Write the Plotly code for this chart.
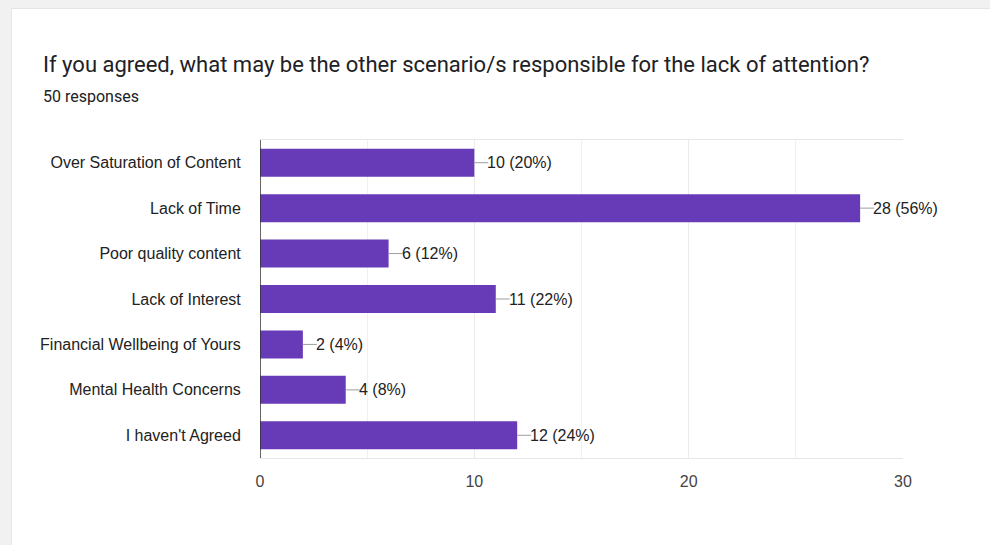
import plotly.graph_objects as go

categories = [
    "Over Saturation of Content",
    "Lack of Time",
    "Poor quality content",
    "Lack of Interest",
    "Financial Wellbeing of Yours",
    "Mental Health Concerns",
    "I haven't Agreed",
]
counts = [10, 28, 6, 11, 2, 4, 12]
total_responses = 50
x_ticks = [0, 10, 20, 30]

title_text = "If you agreed, what may be the other scenario/s responsible for the lack of attention?"
subtitle_text = f"{total_responses} responses"

W, H = 990, 545
L, R, T, B = 259.5, 903.5, 140, 458

def px_x(px):
    return (px - L) / (R - L)

def px_y(py):
    return (B - py) / (B - T)

FONT = "Liberation Sans, Arial"

fig = go.Figure()
fig.add_trace(go.Bar(
    x=counts,
    y=list(range(len(categories))),
    orientation="h",
    marker=dict(color="#673ab7", line=dict(width=0)),
    hoverinfo="skip",
))

shapes = []
annotations = []
# background gray frame
shapes.append(dict(type="rect", xref="paper", yref="paper",
                   x0=px_x(-5), x1=px_x(W + 5), y0=px_y(-5), y1=px_y(8),
                   fillcolor="#f1f1f1", line=dict(width=0), layer="below"))
shapes.append(dict(type="rect", xref="paper", yref="paper",
                   x0=px_x(-5), x1=px_x(10), y0=px_y(H + 5), y1=px_y(-5),
                   fillcolor="#f1f1f1", line=dict(width=0), layer="below"))
shapes.append(dict(type="line", xref="paper", yref="paper",
                   x0=px_x(10), x1=px_x(W + 5), y0=px_y(8.5), y1=px_y(8.5),
                   line=dict(color="#e4e4e4", width=1), layer="below"))
shapes.append(dict(type="line", xref="paper", yref="paper",
                   x0=px_x(10.5), x1=px_x(10.5), y0=px_y(8), y1=px_y(H + 5),
                   line=dict(color="#e4e4e4", width=1), layer="below"))

for i, v in enumerate(counts):
    pct = round(100 * v / total_responses)
    shapes.append(dict(type="line", xref="x", yref="y", xsizemode="pixel",
                       xanchor=v, x0=0, x1=14, y0=i, y1=i,
                       line=dict(color="#9e9e9e", width=1)))
    annotations.append(dict(x=v, y=i, xref="x", yref="y", text=f"{v} ({pct}%)",
                            showarrow=False, xanchor="left", yanchor="middle",
                            xshift=11, font=dict(family=FONT, size=16, color="#222222")))

annotations.append(dict(x=px_x(40), y=px_y(64), xref="paper", yref="paper",
                        text=title_text, showarrow=False, xanchor="left", yanchor="middle",
                        font=dict(family="Roboto", size=22, color="#202124")))
annotations.append(dict(x=px_x(40), y=px_y(97), xref="paper", yref="paper",
                        text=subtitle_text, showarrow=False, xanchor="left", yanchor="middle",
                        font=dict(family="Roboto", size=16, color="#202124")))

fig.update_layout(
    width=W, height=H,
    margin=dict(l=L, r=W - R, t=T, b=H - B, pad=0),
    paper_bgcolor="white", plot_bgcolor="white",
    showlegend=False,
    bargap=0.384,
    shapes=shapes,
    annotations=annotations,
    xaxis=dict(range=[0, 30], tickvals=x_ticks, ticktext=[str(t) for t in x_ticks],
               showgrid=True, gridcolor="#ebebeb", gridwidth=1,
               minor=dict(dtick=5, showgrid=True, gridcolor="#f0f0f0", gridwidth=1),
               zeroline=False, showline=True, linecolor="#e6e6e6", linewidth=1, mirror=True,
               ticks="outside", ticklen=9, tickcolor="rgba(0,0,0,0)",
               tickfont=dict(family=FONT, size=16, color="#444444"),
               fixedrange=True),
    yaxis=dict(tickvals=list(range(len(categories))), ticktext=categories,
               range=[len(categories) - 0.5, -0.5],
               showgrid=False, zeroline=False, showline=False,
               ticks="outside", ticklen=15, tickcolor="rgba(0,0,0,0)",
               tickfont=dict(family=FONT, size=16, color="#222222"),
               fixedrange=True),
)
# dark baseline at x=0
fig.add_shape(type="line", xref="x", yref="paper", x0=0, x1=0, y0=0, y1=1,
              line=dict(color="#333333", width=1.5))

fig.write_html("out.html",
               config={"displayModeBar": False},
               post_script="document.body.style.margin='0';document.body.style.overflow='hidden';")
